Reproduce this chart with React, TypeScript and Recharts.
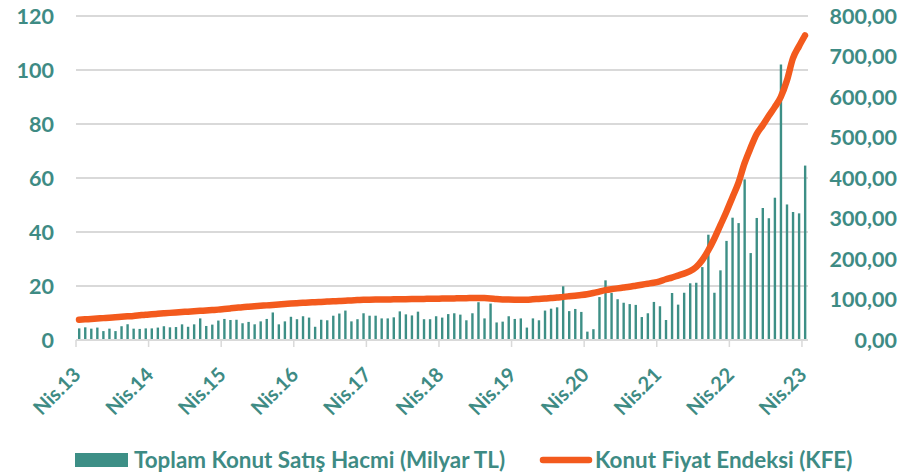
import React from 'react';
import { ComposedChart, Bar, Line, XAxis, YAxis, CartesianGrid, Legend } from 'recharts';

// Monthly categories: Nis.13 ... Nis.23 (121 months)
const MONTH_NAMES = ['Oca', 'Şub', 'Mar', 'Nis', 'May', 'Haz', 'Tem', 'Ağu', 'Eyl', 'Eki', 'Kas', 'Ara'];
const START_YEAR = 2013;
const START_MONTH = 3; // Nisan
const N_MONTHS = 121;
const categories: string[] = Array.from({ length: N_MONTHS }, (_, i) => {
  const m = (START_MONTH + i) % 12;
  const y = START_YEAR + Math.floor((START_MONTH + i) / 12);
  return `${MONTH_NAMES[m]}.${String(y).slice(2)}`;
});

// Toplam Konut Satış Hacmi (Milyar TL)
const salesVolume = [
  4.3, 4.7, 4.2, 4.6, 3.3, 4.2, 3.3, 5.1, 5.8, 4.2, 4.1, 4.3,
  4.3, 4.6, 5.1, 4.7, 4.8, 5.8, 4.9, 5.8, 8.0, 5.2, 5.7, 7.2,
  7.8, 7.4, 7.5, 6.2, 6.7, 5.8, 6.9, 7.8, 10.2, 5.8, 6.9, 8.6,
  7.7, 8.8, 8.3, 4.9, 7.5, 7.3, 9.0, 9.8, 10.9, 6.9, 7.7, 9.9,
  9.0, 9.0, 8.0, 8.0, 8.4, 10.6, 9.5, 9.1, 10.5, 7.7, 7.7, 8.8,
  8.3, 9.6, 9.9, 9.4, 7.3, 9.9, 14.0, 8.0, 13.5, 6.5, 6.8, 8.8,
  7.8, 8.0, 4.6, 8.0, 7.3, 10.9, 11.6, 12.1, 19.9, 10.7, 11.5, 10.4,
  3.1, 4.0, 15.9, 22.1, 17.4, 15.1, 13.8, 13.3, 13.0, 8.5, 9.9, 14.1,
  12.5, 7.4, 17.4, 13.1, 17.5, 21.0, 21.2, 27.0, 39.0, 17.5, 25.8, 36.7,
  45.3, 43.3, 59.5, 32.2, 45.2, 48.9, 45.1, 52.7, 102.0, 50.2, 47.4, 46.9,
  64.6,
];

// Konut Fiyat Endeksi (KFE)
const kfe = [
  50.0, 51.0, 52.0, 53.0, 54.0, 55.0, 56.2, 57.3, 58.4, 59.5, 61.0, 62.5,
  63.5, 64.6, 65.8, 67.0, 68.0, 69.0, 70.0, 71.0, 72.0, 73.0, 74.0, 75.0,
  76.5, 78.0, 79.5, 81.0, 82.2, 83.3, 84.4, 85.5, 86.6, 87.7, 88.8, 90.0,
  91.0, 91.8, 92.6, 93.3, 94.0, 94.8, 95.5, 96.2, 97.0, 97.8, 98.5, 99.3,
  99.6, 99.8, 100.0, 100.2, 100.4, 100.6, 100.8, 101.0, 101.3, 101.5, 101.8, 102.0,
  102.3, 102.5, 102.7, 103.0, 103.3, 103.5, 103.6, 103.4, 102.6, 101.2, 100.2, 99.8,
  99.6, 99.5, 99.6, 100.5, 101.5, 102.5, 103.6, 104.8, 106.5, 108.0, 109.5, 111.0,
  113.0, 116.0, 119.5, 123.0, 125.5, 127.5, 129.5, 131.5, 134.0, 136.5, 139.0, 141.5,
  145.0, 150.0, 154.0, 159.0, 164.0, 170.0, 180.0, 197.0, 221.0, 250.0, 283.0, 316.0,
  352.0, 388.0, 436.0, 474.0, 508.0, 530.0, 553.0, 575.0, 600.0, 640.0, 695.0, 725.0,
  752.0,
];

const leftTicks = [0, 20, 40, 60, 80, 100, 120];
const rightTicks = [0, 100, 200, 300, 400, 500, 600, 700, 800];

const SERIES_NAMES = ['Toplam Konut Satış Hacmi (Milyar TL)', 'Konut Fiyat Endeksi (KFE)'];

const data = categories.map((c, i) => ({ cat: c, sales: salesVolume[i], kfe: kfe[i] }));

const W = 914;
const H = 476;
const LEFT_W = 76;
const RIGHT_W = 106;
const TOP = 16;
const LEGEND_H = 40;
const XAXIS_H = 96;
const PLOT_W = W - LEFT_W - RIGHT_W;
const BAND = PLOT_W / N_MONTHS;

const TEAL = '#3d8f86';
const TEXT_TEAL = '#3e8b84';
const ORANGE = '#f35a1d';
const GRID = '#d9d9d9';
const FONT = 'Lato, "Open Sans", sans-serif';

const XTick = (props: any) => {
  const { x, y, payload } = props;
  const bx = x - BAND / 2;
  const ax = bx + 6;
  const ay = y + 36;
  return (
    <g>
      <line x1={bx} x2={bx} y1={y} y2={y + 7} stroke={GRID} strokeWidth={1.5} />
      <text
        x={ax}
        y={ay}
        textAnchor="end"
        transform={`rotate(-45 ${ax} ${ay})`}
        fill={TEXT_TEAL}
        fontFamily={FONT}
        fontWeight={700}
        fontSize={20}
      >
        {payload.value}
      </text>
    </g>
  );
};

const LeftTick = (props: any) => {
  const { x, y, payload } = props;
  return (
    <text x={x - 22} y={y} dy="0.36em" textAnchor="end" fill={TEXT_TEAL} fontFamily={FONT} fontWeight={700} fontSize={21.5}>
      {payload.value}
    </text>
  );
};

const RightTick = (props: any) => {
  const { x, y, payload } = props;
  return (
    <text x={x + 89} y={y} dy="0.36em" textAnchor="end" fill={TEXT_TEAL} fontFamily={FONT} fontWeight={700} fontSize={21.5}>
      {Number(payload.value).toFixed(2).replace('.', ',')}
    </text>
  );
};

const LegendContent = () => (
  <svg width={W} height={LEGEND_H} style={{ display: 'block' }}>
    <rect x={75} y={17} width={53} height={14} fill={TEAL} />
    <text x={134} y={31.5} fill={TEXT_TEAL} fontFamily={FONT} fontWeight={700} fontSize={22.4}>
      {SERIES_NAMES[0]}
    </text>
    <line x1={543} x2={589} y1={24} y2={24} stroke={ORANGE} strokeWidth={6.5} strokeLinecap="round" />
    <text x={595} y={31.5} fill={TEXT_TEAL} fontFamily={FONT} fontWeight={700} fontSize={22.4}>
      {SERIES_NAMES[1]}
    </text>
  </svg>
);

export default function App() {
  return (
    <div style={{ position: 'absolute', left: 0, top: 0, width: W, height: H, background: '#fff' }}>
      <ComposedChart width={W} height={H} data={data} margin={{ top: TOP, right: 0, bottom: 0, left: 0 }} barCategoryGap={0}>
        <CartesianGrid yAxisId="left" horizontal vertical={false} stroke={GRID} strokeWidth={2} />
        <XAxis
          dataKey="cat"
          height={XAXIS_H}
          interval={11}
          tickLine={false}
          tickSize={0}
          tickMargin={0}
          axisLine={{ stroke: GRID, strokeWidth: 2 }}
          tick={<XTick />}
        />
        <YAxis
          yAxisId="left"
          orientation="left"
          width={LEFT_W}
          domain={[0, 120]}
          ticks={leftTicks}
          axisLine={false}
          tickLine={false}
          tickSize={0}
          tickMargin={0}
          tick={<LeftTick />}
        />
        <YAxis
          yAxisId="right"
          orientation="right"
          width={RIGHT_W}
          domain={[0, 800]}
          ticks={rightTicks}
          axisLine={false}
          tickLine={false}
          tickSize={0}
          tickMargin={0}
          tick={<RightTick />}
        />
        <Bar yAxisId="left" dataKey="sales" name={SERIES_NAMES[0]} fill={TEAL} barSize={2.4} isAnimationActive={false} />
        <Line
          yAxisId="right"
          dataKey="kfe"
          name={SERIES_NAMES[1]}
          type="monotone"
          stroke={ORANGE}
          strokeWidth={6.5}
          strokeLinecap="round"
          strokeLinejoin="round"
          dot={false}
          activeDot={false}
          isAnimationActive={false}
        />
        <Legend
          verticalAlign="bottom"
          height={LEGEND_H}
          content={<LegendContent />}
          wrapperStyle={{ left: 0, bottom: 0, width: W, height: LEGEND_H }}
        />
      </ComposedChart>
    </div>
  );
}
